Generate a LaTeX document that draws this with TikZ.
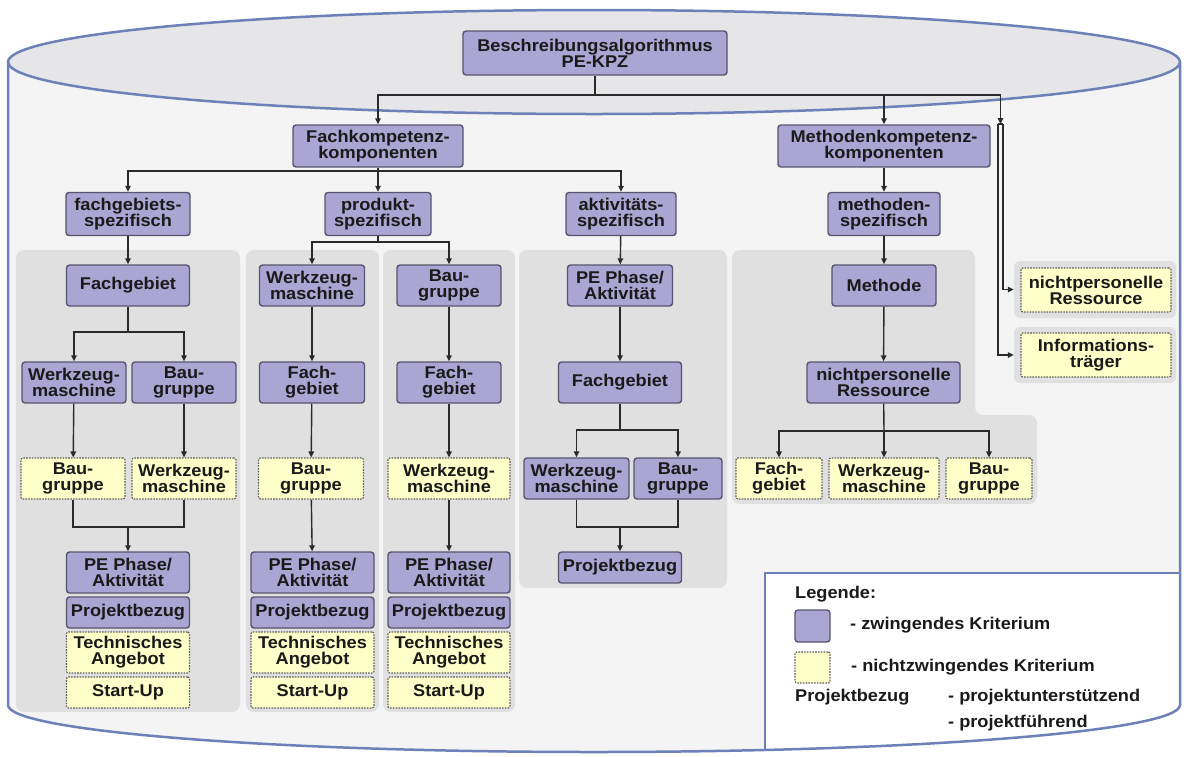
\documentclass[tikz,border=0pt]{standalone}
\usepackage{fontspec}
\setmainfont{Liberation Sans}[FakeStretch=1.07]
\usetikzlibrary{arrows.meta}
\definecolor{purp}{HTML}{AAA5D2}
\definecolor{purpline}{HTML}{58546F}
\definecolor{yel}{HTML}{FFFFC9}
\definecolor{yelline}{HTML}{5E5E5E}
\definecolor{panel}{HTML}{E0E0E0}
\definecolor{cylbody}{HTML}{F4F4F4}
\definecolor{lid}{HTML}{E6E6E9}
\definecolor{cyl}{HTML}{6D80B8}
\definecolor{ink}{HTML}{1A1A1A}
\definecolor{wirec}{HTML}{2A2A2A}

\begin{document}
\begin{tikzpicture}[x=1pt,y=-1pt,
  every node/.style={font=\bfseries\fontsize{17}{16}\selectfont, text=ink, inner sep=0pt, align=center},
  pbox/.style={draw=purpline, fill=purp, line width=1.4pt, rounded corners=3pt},
  ybox/.style={draw=yelline, fill=yel, line width=1.2pt, dash pattern=on 1.6pt off 1.2pt, rounded corners=2pt},
  gback/.style={fill=panel, rounded corners=6pt},
  sz/.style 2 args={minimum width=#1, minimum height=#2},
  wire/.style={draw=wirec, line width=1.4pt},
  arr/.style={wire, -{Triangle[length=6pt,width=5.5pt]}},
  rim/.style={draw=cyl, line width=2.5pt},
  legtext/.style={anchor=west}
]
\useasboundingbox (0,0) rectangle (1186,756);

% cylinder body and lid
\fill[cylbody] (8,62) -- (8,705) arc[start angle=180,end angle=0,x radius=586,y radius=47] -- (1180,62) -- cycle;
\filldraw[fill=lid, rim] (594,62) ellipse[x radius=586, y radius=52];

% legend field in the lower right of the cylinder
\begin{scope}
  \clip (8,62) -- (8,705) arc[start angle=180,end angle=0,x radius=586,y radius=47] -- (1180,62) -- cycle;
  \fill[white] (765,573) rectangle (1190,760);
  \draw[rim] (765,760) -- (765,573) -- (1190,573);
\end{scope}

% grey column panels
\fill[panel, rounded corners=8pt] (16,250) rectangle (240,712);
\fill[panel, rounded corners=8pt] (246,250) rectangle (379,712);
\fill[panel, rounded corners=8pt] (383,250) rectangle (515,712);
\fill[panel, rounded corners=8pt] (519,250) rectangle (727,588);
\fill[panel, rounded corners=8pt] (732,250) -- (975,250) -- (975,415) -- (1037,415) -- (1037,504) -- (732,504) -- cycle;

% top levels
\node[pbox, sz={264}{44}] (T) at (595,53) {Beschreibungsalgorithmus\\PE-KPZ};
\node[pbox, sz={170}{42}] (F) at (378,146) {Fachkompetenz-\\komponenten};
\node[pbox, sz={212}{42}] (M) at (884,146) {Methodenkompetenz-\\komponenten};
\node[pbox, sz={124}{43}] (FS) at (128,214) {fachgebiets-\\spezifisch};
\node[pbox, sz={106}{43}] (PS) at (378,214) {produkt-\\spezifisch};
\node[pbox, sz={110}{43}] (AS) at (621,214) {aktivitäts-\\spezifisch};
\node[pbox, sz={112}{43}] (MS) at (884,214) {methoden-\\spezifisch};

% column 1
\node[pbox, sz={123}{41}] (FG1) at (128,285.5) {Fachgebiet};
\node[pbox, sz={104}{41}] (W1) at (74,382.5) {Werkzeug-\\maschine};
\node[pbox, sz={104}{41}] (B1) at (184,382.5) {Bau-\\gruppe};
\node[ybox, sz={104}{41}] (Y1a) at (73,478.5) {Bau-\\gruppe};
\node[ybox, sz={104}{41}] (Y1b) at (184,478.5) {Werkzeug-\\maschine};
\node[pbox, sz={123}{41}] (PE1) at (128,572.5) {PE Phase/\\Aktivität};
\node[pbox, sz={123}{31}] (PB1) at (128,612.5) {Projektbezug};
\node[ybox, sz={123}{41}] (TA1) at (128,652.5) {Technisches\\Angebot};
\node[ybox, sz={123}{31}] (SU1) at (128,692.5) {Start-Up};

% column 2
\node[pbox, sz={105}{41}] (W2) at (312,285.5) {Werkzeug-\\maschine};
\node[pbox, sz={105}{41}] (FG2) at (312,382.5) {Fach-\\gebiet};
\node[ybox, sz={105}{41}] (Y2) at (311,478.5) {Bau-\\gruppe};
\node[pbox, sz={123}{41}] (PE2) at (312.5,572.5) {PE Phase/\\Aktivität};
\node[pbox, sz={123}{31}] (PB2) at (312.5,612.5) {Projektbezug};
\node[ybox, sz={123}{41}] (TA2) at (312.5,652.5) {Technisches\\Angebot};
\node[ybox, sz={123}{31}] (SU2) at (312.5,692.5) {Start-Up};

% column 3
\node[pbox, sz={104}{41}] (B3) at (449,285.5) {Bau-\\gruppe};
\node[pbox, sz={104}{41}] (FG3) at (449,382.5) {Fach-\\gebiet};
\node[ybox, sz={122}{41}] (Y3) at (449,478.5) {Werkzeug-\\maschine};
\node[pbox, sz={122}{41}] (PE3) at (449,572.5) {PE Phase/\\Aktivität};
\node[pbox, sz={122}{31}] (PB3) at (449,612.5) {Projektbezug};
\node[ybox, sz={122}{41}] (TA3) at (449,652.5) {Technisches\\Angebot};
\node[ybox, sz={122}{31}] (SU3) at (449,692.5) {Start-Up};

% column 4
\node[pbox, sz={105}{41}] (PE4) at (620,285.5) {PE Phase/\\Aktivität};
\node[pbox, sz={123}{41}] (FG4) at (620,382.5) {Fachgebiet};
\node[pbox, sz={105}{41}] (W4) at (576.5,478.5) {Werkzeug-\\maschine};
\node[pbox, sz={88}{41}] (B4) at (678,478.5) {Bau-\\gruppe};
\node[pbox, sz={123}{31}] (PB4) at (620,567.5) {Projektbezug};

% column 5
\node[pbox, sz={104}{41}] (ME) at (884,285.5) {Methode};
\node[pbox, sz={153}{41}] (NR5) at (883.5,382.5) {nichtpersonelle\\Ressource};
\node[ybox, sz={86}{41}] (Y5a) at (779,478.5) {Fach-\\gebiet};
\node[ybox, sz={110}{41}] (Y5b) at (884,478.5) {Werkzeug-\\maschine};
\node[ybox, sz={86}{41}] (Y5c) at (989,478.5) {Bau-\\gruppe};

% right-hand items
\node[gback, sz={162}{57}] (NRg) at (1095,289.5) {};
\node[ybox, sz={150}{44}] (NRy) at (1096,290) {nichtpersonelle\\Ressource};
\node[gback, sz={162}{56}] (ITg) at (1095,355) {};
\node[ybox, sz={150}{44}] (ITy) at (1096,355) {Informations-\\träger};

% junction points
\coordinate (j0) at (595,95);
\coordinate (j1) at (378,171);
\coordinate (j2) at (378,242);
\coordinate (j3) at (128,332);
\coordinate (m1) at (128,527);
\coordinate (j4) at (620,430);
\coordinate (m4) at (620,527);
\coordinate (j5) at (884,431);
\coordinate (dtop) at (1000.5,124);
\coordinate (dl) at (998,124);
\coordinate (dr) at (1003,124);

% connectors
\draw[wire] (T) -- (j0);
\draw[arr] (j0) -| (F);
\draw[arr] (j0) -| (M);
\draw[arr] (j0) -| (dtop);
\draw[wire] (dl) -- (dr);
\draw[arr] (dr) |- (NRg);
\draw[arr] (dl) |- (ITg);

\draw[wire] (F) -- (j1);
\draw[arr] (j1) -| (FS);
\draw[arr] (F) -- (PS);
\draw[arr] (j1) -| (AS);
\draw[arr] (M) -- (MS);

\draw[arr] (FS) -- (FG1);
\draw[wire] (FG1) -- (j3);
\draw[arr] (j3) -| (W1);
\draw[arr] (j3) -| (B1);
\draw[arr] (W1) -- (Y1a);
\draw[arr] (B1) -- (Y1b);
\draw[wire] (Y1a.south) |- (m1);
\draw[wire] (Y1b.south) |- (m1);
\draw[arr] (m1) -- (PE1);

\draw[wire] (PS) -- (j2);
\draw[arr] (j2) -| (W2);
\draw[arr] (j2) -| (B3);
\draw[arr] (W2) -- (FG2);
\draw[arr] (FG2) -- (Y2);
\draw[arr] (Y2) -- (PE2);
\draw[arr] (B3) -- (FG3);
\draw[arr] (FG3) -- (Y3);
\draw[arr] (Y3) -- (PE3);

\draw[arr] (AS) -- (PE4);
\draw[arr] (PE4) -- (FG4);
\draw[wire] (FG4) -- (j4);
\draw[arr] (j4) -| (W4);
\draw[arr] (j4) -| (B4);
\draw[wire] (W4.south) |- (m4);
\draw[wire] (B4.south) |- (m4);
\draw[arr] (m4) -- (PB4);

\draw[arr] (MS) -- (ME);
\draw[arr] (ME) -- (NR5);
\draw[wire] (NR5) -- (j5);
\draw[arr] (j5) -| (Y5a);
\draw[arr] (j5) -- (Y5b);
\draw[arr] (j5) -| (Y5c);

% legend
\node[legtext] (lg) at (795,594) {Legende:};
\node[pbox, sz={35}{32}] (lgp) at (812.5,626) {};
\node[legtext] (lgpt) at (850,625) {- zwingendes Kriterium};
\node[ybox, sz={35}{31}] (lgy) at (812.5,667.5) {};
\node[legtext] (lgyt) at (851,667) {- nichtzwingendes Kriterium};
\node[legtext] (lgb) at (795,697) {Projektbezug};
\node[legtext] (lgb1) at (948,697) {- projektunterstützend};
\node[legtext] (lgb2) at (948,723) {- projektführend};

% cylinder wall drawn last
\draw[rim] (8,62) -- (8,705) arc[start angle=180,end angle=0,x radius=586,y radius=47] -- (1180,62);
\end{tikzpicture}
\end{document}
